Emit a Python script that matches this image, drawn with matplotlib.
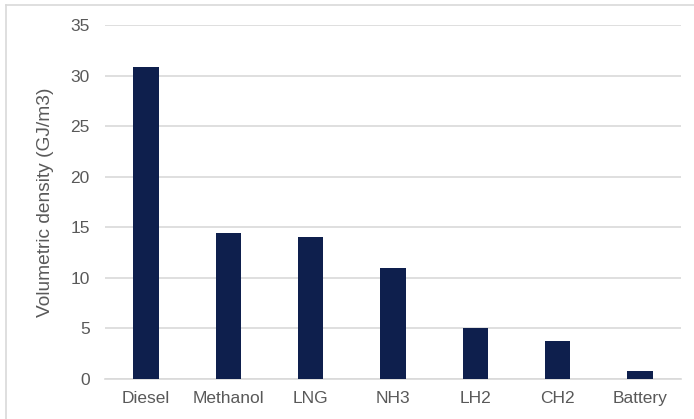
import matplotlib
matplotlib.use("Agg")
import matplotlib.pyplot as plt
from matplotlib.lines import Line2D

categories = ["Diesel", "Methanol", "LNG", "NH3", "LH2", "CH2", "Battery"]
values = [30.8, 14.4, 14.0, 11.0, 5.0, 3.8, 0.8]
yticks = [0, 5, 10, 15, 20, 25, 30, 35]

plt.rcParams['font.family'] = ['Liberation Sans', 'DejaVu Sans']
fig = plt.figure(figsize=(6.94, 4.19), dpi=100)
ax = fig.add_axes([0.1513, 0.0955, 0.8300, 0.8448])

x = range(len(categories))
ax.bar(x, values, width=0.31, color="#0e1f4d", zorder=3)
ax.set_xlim(-0.5, len(categories) - 0.5)
ax.set_ylim(0, 35)
ax.set_yticks(yticks)
ax.set_xticks(list(x))
ax.set_xticklabels(categories)
ax.grid(axis='y', color="#d9d9d9", linewidth=1.2, zorder=0)
for s in ['top', 'right', 'left']:
    ax.spines[s].set_visible(False)
ax.spines['bottom'].set_color("#d9d9d9")
ax.spines['bottom'].set_linewidth(1.2)
ax.tick_params(axis='both', length=0, colors="#595959", labelsize=12.5)
ax.tick_params(axis='y', pad=11)
ax.tick_params(axis='x', pad=9)
ax.set_ylabel("Volumetric density (GJ/m3)", fontsize=13.8, color="#595959", labelpad=12)

# figure border (top and left)
fig.add_artist(Line2D([6/694, 1], [1 - 5/419, 1 - 5/419], color="#d9d9d9", linewidth=1.2, transform=fig.transFigure))
fig.add_artist(Line2D([6/694, 6/694], [0, 1 - 5/419], color="#d9d9d9", linewidth=1.2, transform=fig.transFigure))

fig.savefig("out.png", dpi=100)
